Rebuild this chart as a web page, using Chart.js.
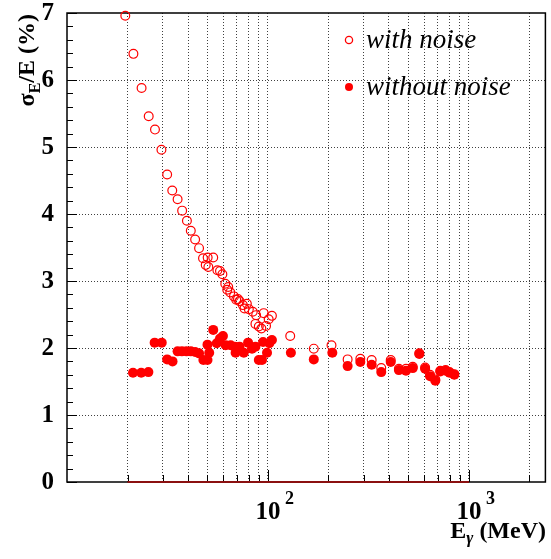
<!DOCTYPE html>
<html lang="en">
<head>
  <meta charset="UTF-8">
  <title>Energy resolution</title>
  <script src="https://cdn.jsdelivr.net/npm/chart.js"></script>
  <style>
    body {
      margin: 0;
      background: #fff;
    }
    canvas {
      display: block;
    }
  </style>
</head>
<body>
  <canvas id="resChart" width="551" height="559"></canvas>
  <script>
    // open circles: with noise (E in MeV, sigma_E/E in %)
    const withNoiseEnergy = [19.5, 21.4, 23.5, 25.5, 27.4, 29.5, 31.5, 33.4, 35.5, 37.4, 39.5, 41.3, 43.4, 45.4, 47.5, 49.0, 50.1, 50.5, 53.4, 56.0, 57.7, 59.3, 61.3, 62.7, 63.4, 64.9, 67.7, 69.5, 70.9, 72.2, 75.0, 76.4, 78.5, 80.3, 84.0, 86.6, 87.3, 90.0, 92.7, 95.2, 97.8, 100.8, 104.6, 129, 169, 207, 249, 288, 328, 366, 408, 448, 486, 525, 566, 605, 640, 680, 720, 765, 800, 845];
    const withNoiseRes = [6.96, 6.39, 5.88, 5.46, 5.26, 4.96, 4.59, 4.35, 4.22, 4.05, 3.90, 3.75, 3.62, 3.49, 3.34, 3.24, 3.35, 3.21, 3.35, 3.16, 3.15, 3.10, 2.96, 2.87, 2.91, 2.83, 2.77, 2.72, 2.73, 2.70, 2.64, 2.59, 2.66, 2.58, 2.54, 2.36, 2.49, 2.32, 2.29, 2.52, 2.33, 2.43, 2.48, 2.18, 1.99, 2.04, 1.83, 1.84, 1.82, 1.70, 1.82, 1.69, 1.69, 1.72, 1.92, 1.71, 1.60, 1.53, 1.66, 1.67, 1.64, 1.61];

    // filled circles: without noise
    const withoutNoiseEnergy = [21.3, 23.4, 25.4, 27.3, 29.6, 31.5, 33.5, 35.5, 37.3, 39.3, 41.3, 43.4, 45.4, 47.7, 50.0, 50.0, 51.0, 53.4, 55.6, 57.7, 59.7, 61.6, 65.2, 68.4, 69.0, 72.2, 75.8, 79.6, 83.3, 86.6, 90.0, 93.4, 94.5, 98.9, 101.6, 104.6, 130, 169, 209, 249, 288, 328, 366, 408, 448, 486, 525, 566, 605, 640, 680, 720, 765, 800, 845];
    const withoutNoiseRes = [1.63, 1.63, 1.64, 2.08, 2.08, 1.83, 1.80, 1.95, 1.95, 1.95, 1.95, 1.94, 1.92, 1.82, 1.82, 2.05, 1.93, 2.27, 2.07, 2.14, 2.18, 2.04, 2.04, 2.02, 1.93, 2.02, 1.93, 2.08, 1.99, 2.02, 1.82, 1.82, 2.09, 1.93, 2.07, 2.12, 1.93, 1.83, 1.93, 1.73, 1.79, 1.75, 1.64, 1.79, 1.67, 1.66, 1.70, 1.91, 1.69, 1.58, 1.51, 1.65, 1.66, 1.63, 1.60];

    // dark red histogram baseline along y = 0
    const baseLineEnergy = [20, 1000];
    const baseLineRes = [0, 0];

    const seriesLabels = ["with noise", "without noise"];
    const xGridValues = [20, 30, 40, 50, 60, 70, 80, 90, 100, 200, 300, 400, 500, 600, 700, 800, 900, 1000, 2000];
    const xTickLabels = [{ value: 100, base: "10", exp: "2" }, { value: 1000, base: "10", exp: "3" }];
    const yTickLabels = [0, 1, 2, 3, 4, 5, 6, 7];

    const SERIF = "'Liberation Serif', 'DejaVu Serif', serif";
    const RED = "#ff0000";

    const toPoints = (xs, ys) => xs.map((x, i) => ({ x: x, y: ys[i] }));

    // ROOT-like frame, labels, titles and legend
    const rootStyle = {
      id: "rootStyle",
      beforeDraw(chart) {
        const ctx = chart.ctx;
        ctx.save();
        ctx.fillStyle = "#fff";
        ctx.fillRect(0, 0, chart.width, chart.height);
        ctx.restore();
      },
      beforeDatasetsDraw(chart) {
        const ctx = chart.ctx;
        const a = chart.chartArea;
        const xs = chart.scales.x;
        const ys = chart.scales.y;
        ctx.save();
        ctx.strokeStyle = "#000";
        ctx.lineWidth = 1.5;
        ctx.strokeRect(a.left, a.top, a.right - a.left, a.bottom - a.top);

        // minor ticks on the y axis, every 0.2
        ctx.lineWidth = 1;
        for (let v = 0; v <= 7.001; v += 0.2) {
          const y = Math.round(ys.getPixelForValue(v)) + 0.5;
          const len = Math.abs(v - Math.round(v)) < 0.01 ? 10 : 6;
          ctx.beginPath();
          ctx.moveTo(a.left, y);
          ctx.lineTo(a.left + len, y);
          ctx.stroke();
        }
        // ticks on the x axis
        xGridValues.forEach(v => {
          const x = Math.round(xs.getPixelForValue(v)) + 0.5;
          const len = (v === 100 || v === 1000) ? 12 : 7;
          ctx.beginPath();
          ctx.moveTo(x, a.bottom);
          ctx.lineTo(x, a.bottom - len);
          ctx.stroke();
        });
        ctx.restore();
      },
      afterDraw(chart) {
        const ctx = chart.ctx;
        const a = chart.chartArea;
        const xs = chart.scales.x;
        const ys = chart.scales.y;
        ctx.save();
        ctx.fillStyle = "#000";

        // y tick labels
        ctx.font = "bold 25px " + SERIF;
        ctx.textAlign = "right";
        ctx.textBaseline = "middle";
        yTickLabels.forEach(v => {
          ctx.fillText(String(v), 54, ys.getPixelForValue(v) + 1);
        });

        // x tick labels 10^2, 10^3
        ctx.textBaseline = "alphabetic";
        xTickLabels.forEach(t => {
          const x = xs.getPixelForValue(t.value);
          ctx.font = "bold 25px " + SERIF;
          ctx.textAlign = "center";
          ctx.fillText(t.base, x, 519);
          ctx.font = "bold 18px " + SERIF;
          ctx.textAlign = "left";
          ctx.fillText(t.exp, x + 17, 504);
        });

        // x title: E_gamma (MeV), right aligned
        ctx.textAlign = "left";
        const bigX = "bold 24px " + SERIF;
        const subX = "italic bold 17px " + SERIF;
        ctx.font = bigX;
        const wE = ctx.measureText("E").width;
        const wRest = ctx.measureText(" (MeV)").width;
        ctx.font = subX;
        const wG = ctx.measureText("\u03b3").width;
        let x0 = 546 - (wE + wG + wRest);
        ctx.font = bigX;
        ctx.fillText("E", x0, 538);
        ctx.font = subX;
        ctx.fillText("\u03b3", x0 + wE, 543);
        ctx.font = bigX;
        ctx.fillText(" (MeV)", x0 + wE + wG, 538);

        // y title: sigma_E/E (%), rotated, ending at the top of the frame
        const bigY = "bold 24px " + SERIF;
        const subY = "bold 16px " + SERIF;
        ctx.font = bigY;
        const wS = ctx.measureText("\u03c3").width;
        const wTail = ctx.measureText("/E (%)").width;
        ctx.font = subY;
        const wSub = ctx.measureText("E").width;
        const total = wS + wSub + wTail;
        ctx.translate(34, a.top + total + 1);
        ctx.rotate(-Math.PI / 2);
        ctx.font = bigY;
        ctx.fillText("\u03c3", 0, 0);
        ctx.font = subY;
        ctx.fillText("E", wS, 6);
        ctx.font = bigY;
        ctx.fillText("/E (%)", wS + wSub, 0);
        ctx.setTransform(1, 0, 0, 1, 0, 0);

        // legend
        ctx.font = "italic 27px " + SERIF;
        ctx.textAlign = "left";
        ctx.fillStyle = "#000";
        ctx.strokeStyle = RED;
        ctx.lineWidth = 1.3;
        ctx.beginPath();
        ctx.arc(349, 40, 3.6, 0, Math.PI * 2);
        ctx.stroke();
        ctx.fillText(seriesLabels[0], 366, 48);
        ctx.fillStyle = RED;
        ctx.beginPath();
        ctx.arc(349, 87, 4, 0, Math.PI * 2);
        ctx.fill();
        ctx.fillStyle = "#000";
        ctx.fillText(seriesLabels[1], 366, 95);
        ctx.restore();
      }
    };

    const ctx = document.getElementById("resChart").getContext("2d");
    new Chart(ctx, {
      type: "scatter",
      data: {
        datasets: [
          {
            label: seriesLabels[0],
            data: toPoints(withNoiseEnergy, withNoiseRes),
            pointStyle: "circle",
            pointRadius: 4.4,
            pointBorderWidth: 1.2,
            borderColor: RED,
            backgroundColor: "rgba(0,0,0,0)",
            clip: false
          },
          {
            label: seriesLabels[1],
            data: toPoints(withoutNoiseEnergy, withoutNoiseRes),
            pointStyle: "circle",
            pointRadius: 5,
            pointBorderWidth: 0,
            borderColor: RED,
            backgroundColor: RED,
            clip: false
          },
          {
            label: "baseline",
            data: toPoints(baseLineEnergy, baseLineRes),
            showLine: true,
            pointRadius: 0,
            borderColor: "#8b1010",
            borderWidth: 2,
            clip: false
          }
        ]
      },
      options: {
        responsive: false,
        animation: false,
        devicePixelRatio: 1,
        layout: {
          padding: { left: 67, top: 13, right: 1, bottom: 77 }
        },
        plugins: {
          legend: { display: false },
          tooltip: { enabled: false }
        },
        scales: {
          x: {
            type: "logarithmic",
            min: 10,
            max: 2400,
            afterBuildTicks: (scale) => {
              scale.ticks = xGridValues.map(v => ({ value: v }));
            },
            ticks: { display: false },
            grid: {
              color: "rgba(0,0,0,0.75)",
              lineWidth: 1,
              drawTicks: false
            },
            border: { display: false, dash: [1, 2] }
          },
          y: {
            type: "linear",
            min: 0,
            max: 7,
            ticks: { display: false, stepSize: 1 },
            grid: {
              color: (c) => (c.tick.value === 0 || c.tick.value === 7) ? "rgba(0,0,0,0)" : "rgba(0,0,0,0.75)",
              lineWidth: 1,
              drawTicks: false
            },
            border: { display: false, dash: [1, 2] }
          }
        }
      },
      plugins: [rootStyle]
    });
  </script>
</body>
</html>
